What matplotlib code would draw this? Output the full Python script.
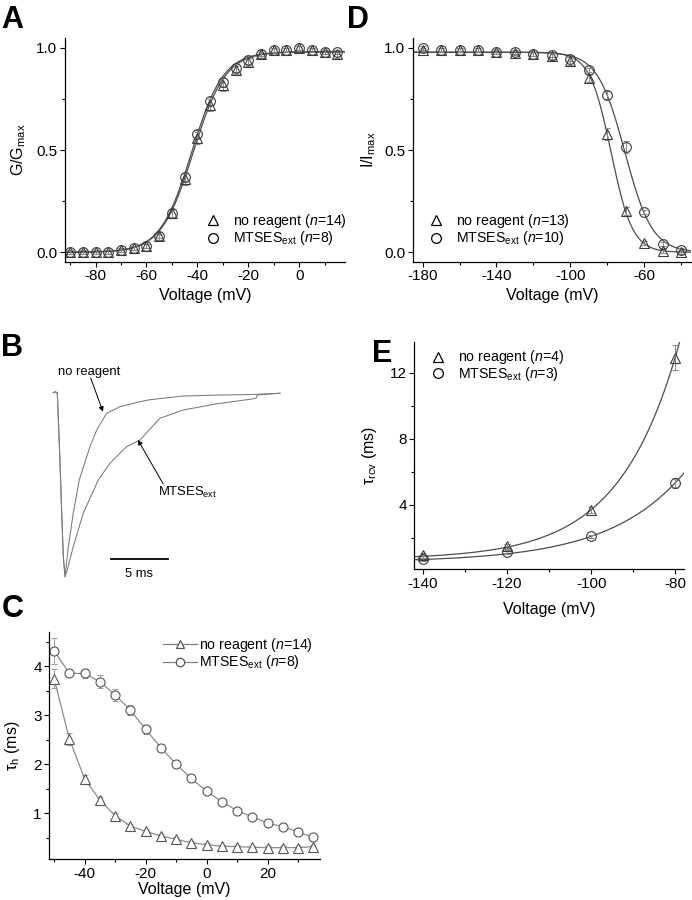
import numpy as np
import matplotlib
matplotlib.use('Agg')
import matplotlib.pyplot as plt
from matplotlib.lines import Line2D
from matplotlib.ticker import MultipleLocator

plt.rcParams['font.family'] = ['Liberation Sans', 'DejaVu Sans']
plt.rcParams['mathtext.fontset'] = 'custom'
plt.rcParams['mathtext.rm'] = 'Liberation Sans'
plt.rcParams['mathtext.it'] = 'Liberation Sans:italic'
plt.rcParams['mathtext.bf'] = 'Liberation Sans:bold'
plt.rcParams['axes.unicode_minus'] = False

# ---------------- Panel A: activation (G/Gmax) ----------------
act_v = [-90, -85, -80, -75, -70, -65, -60, -55, -50, -45, -40, -35, -30, -25, -20, -15, -10, -5, 0, 5, 10, 15]
act_nr = [0.0, 0.0, 0.0, 0.0, 0.01, 0.02, 0.03, 0.08, 0.19, 0.36, 0.56, 0.72, 0.82, 0.89, 0.93, 0.97, 0.99, 0.99, 1.0, 0.99, 0.98, 0.97]
act_nr_err = [0.01, 0.01, 0.01, 0.01, 0.01, 0.01, 0.01, 0.02, 0.02, 0.03, 0.03, 0.03, 0.03, 0.02, 0.02, 0.02, 0.01, 0.01, 0.01, 0.01, 0.01, 0.02]
act_mt = [0.0, 0.0, 0.0, 0.0, 0.01, 0.02, 0.03, 0.08, 0.19, 0.37, 0.58, 0.74, 0.83, 0.90, 0.94, 0.97, 0.99, 0.99, 1.0, 0.99, 0.98, 0.98]
act_mt_err = [0.01, 0.01, 0.01, 0.01, 0.01, 0.01, 0.01, 0.01, 0.02, 0.02, 0.02, 0.02, 0.02, 0.02, 0.02, 0.01, 0.01, 0.01, 0.01, 0.01, 0.01, 0.01]
act_fit_nr = dict(top=0.98, vhalf=-41.6, k=6.3)
act_fit_mt = dict(top=0.98, vhalf=-42.2, k=6.2)

# ---------------- Panel D: steady-state inactivation ----------------
inact_v = [-180, -170, -160, -150, -140, -130, -120, -110, -100, -90, -80, -70, -60, -50, -40]
inact_nr = [0.99, 0.99, 0.99, 0.99, 0.98, 0.975, 0.97, 0.96, 0.935, 0.85, 0.577, 0.20, 0.047, 0.008, 0.0]
inact_nr_err = [0.01, 0.01, 0.01, 0.01, 0.01, 0.01, 0.01, 0.02, 0.02, 0.02, 0.03, 0.02, 0.01, 0.01, 0.01]
inact_mt = [1.0, 0.99, 0.99, 0.99, 0.98, 0.977, 0.97, 0.965, 0.945, 0.89, 0.77, 0.516, 0.195, 0.04, 0.01]
inact_mt_err = [0.01, 0.01, 0.01, 0.01, 0.01, 0.01, 0.01, 0.01, 0.01, 0.01, 0.02, 0.03, 0.01, 0.01, 0.01]
inact_fit_nr = dict(top=0.978, vhalf=-77.9, k=5.8)
inact_fit_mt = dict(top=0.978, vhalf=-70.4, k=7.4)

# ---------------- Panel B: current traces (normalized) ----------------
trace_nr_t = [0, 0.15, 0.35, 0.59, 0.74, 0.88, 1.03, 1.32, 1.75, 2.28, 3.22, 3.81, 4.68, 5.85, 7.61, 8.48, 11.4, 14.5, 17.25, 19.9]
trace_nr_i = [0, 0.005, 0, -0.38, -0.66, -0.89, -1.0, -0.837, -0.655, -0.474, -0.293, -0.203, -0.112, -0.076, -0.049, -0.038, -0.018, -0.013, -0.010, -0.003]
trace_mt_t = [0, 0.15, 0.35, 0.59, 0.74, 0.88, 1.03, 1.2, 1.75, 2.63, 3.95, 4.97, 6.44, 7.61, 8.6, 9.36, 11.4, 14.3, 17.25, 17.8, 17.9, 19.9]
trace_mt_i = [0, 0.005, 0, -0.38, -0.66, -0.89, -1.0, -0.97, -0.837, -0.655, -0.474, -0.384, -0.293, -0.257, -0.19, -0.139, -0.094, -0.061, -0.036, -0.030, -0.0125, -0.003]
scale_bar_ms = 5

# ---------------- Panel C: tau_h ----------------
tauh_v = [-50, -45, -40, -35, -30, -25, -20, -15, -10, -5, 0, 5, 10, 15, 20, 25, 30, 35]
tauh_nr = [3.74, 2.51, 1.70, 1.27, 0.95, 0.74, 0.63, 0.54, 0.47, 0.40, 0.36, 0.33, 0.32, 0.31, 0.30, 0.30, 0.30, 0.32]
tauh_nr_err = [0.19, 0.12, 0.08, 0.07, 0.06, 0.05, 0.04, 0.04, 0.04, 0.04, 0.04, 0.03, 0.03, 0.03, 0.03, 0.03, 0.03, 0.03]
tauh_mt = [4.31, 3.85, 3.85, 3.68, 3.41, 3.10, 2.71, 2.34, 2.00, 1.71, 1.45, 1.24, 1.05, 0.93, 0.80, 0.73, 0.62, 0.51]
tauh_mt_err = [0.27, 0.05, 0.10, 0.13, 0.13, 0.10, 0.09, 0.06, 0.04, 0.04, 0.04, 0.03, 0.03, 0.03, 0.03, 0.03, 0.03, 0.03]

# ---------------- Panel E: tau_rcv ----------------
rcv_v = [-140, -120, -100, -80]
rcv_nr = [0.93, 1.48, 3.68, 12.92]
rcv_nr_err = [0.15, 0.15, 0.2, 0.75]
rcv_mt = [0.67, 1.13, 2.08, 5.34]
rcv_mt_err = [0.1, 0.12, 0.1, 0.3]
rcv_fit_nr = dict(a=0.68, b=12.32, k=14.2, vref=-80)
rcv_fit_mt = dict(a=0.50, b=4.84, k=17.8, vref=-80)

W, H = 692, 900
fig = plt.figure(figsize=(W / 100, H / 100), dpi=100)


def px_axes(l, t, r, b):
    return fig.add_axes([l / W, 1 - b / H, (r - l) / W, (b - t) / H])


def fx(x):
    return x / W


def fy(y):
    return 1 - y / H


FS = 11.5
TFS = 11
LFS = 10.2
BFS = 9.4
DARK = '#3a3a3a'
FITC = '#4d4d4d'
ERRC = '#8a8a8a'


def style(ax):
    for s in ['top', 'right']:
        ax.spines[s].set_visible(False)
    for s in ['left', 'bottom']:
        ax.spines[s].set_linewidth(0.9)
    ax.tick_params(which='major', direction='out', length=3.5, width=0.8, labelsize=TFS, pad=2)
    ax.tick_params(which='minor', direction='out', length=2, width=0.8)


def legend_entry(x, y, marker, line=False, mcolor='black', lcolor='#808080', ms=7):
    if line:
        fig.add_artist(Line2D([fx(x - 17), fx(x + 17)], [fy(y), fy(y)], color=lcolor, lw=0.9,
                              transform=fig.transFigure))
    fig.add_artist(Line2D([fx(x)], [fy(y)], marker=marker, ms=ms, mfc='white', mec=mcolor, mew=0.9,
                          ls='none', transform=fig.transFigure))


def legend_text(x, y, text, size=LFS):
    fig.text(fx(x), fy(y + 4.5), text, fontsize=size, ha='left', va='baseline')


def boltz_up(v, p):
    v = np.asarray(v, dtype=float)
    return p['top'] / (1 + np.exp((p['vhalf'] - v) / p['k']))


def boltz_down(v, p):
    v = np.asarray(v, dtype=float)
    return p['top'] / (1 + np.exp((v - p['vhalf']) / p['k']))


# ---------- A ----------
axA = px_axes(65, 38.3, 345, 261.7)
style(axA)
vv = np.linspace(-92, 18, 300)
axA.plot(vv, boltz_up(vv, act_fit_nr), color=FITC, lw=0.9)
axA.plot(vv, boltz_up(vv, act_fit_mt), color=FITC, lw=0.9)
axA.errorbar(act_v, act_nr, yerr=act_nr_err, fmt='^', ms=7, mfc='none', mec=DARK, mew=0.8,
             ecolor=ERRC, elinewidth=0.7, capsize=2)
axA.errorbar(act_v, act_mt, yerr=act_mt_err, fmt='o', ms=7, mfc='none', mec=DARK, mew=0.8,
             ecolor=ERRC, elinewidth=0.7, capsize=2)
axA.set_xlim(-92, 18)
axA.set_ylim(-0.046, 1.046)
axA.set_xticks([-80, -60, -40, -20, 0])
axA.xaxis.set_minor_locator(MultipleLocator(10))
axA.yaxis.set_major_locator(MultipleLocator(0.5))
axA.yaxis.set_minor_locator(MultipleLocator(0.25))
axA.set_xlabel('Voltage (mV)', fontsize=FS, labelpad=3)
axA.set_ylabel(r'G/G$_{\mathrm{max}}$', fontsize=FS, labelpad=6)
legend_entry(213, 220, '^')
legend_text(233, 220, r'no reagent ($\mathit{n}$=14)')
legend_entry(213, 238, 'o')
legend_text(233, 238, r'MTSES$_{\mathrm{ext}}$ ($\mathit{n}$=8)')

# ---------- D ----------
axD = px_axes(412.7, 38.3, 691, 261.7)
style(axD)
vv = np.linspace(-185.4, -34.6, 300)
axD.plot(vv, boltz_down(vv, inact_fit_nr), color=FITC, lw=0.9)
axD.plot(vv, boltz_down(vv, inact_fit_mt), color=FITC, lw=0.9)
axD.errorbar(inact_v, inact_nr, yerr=inact_nr_err, fmt='^', ms=7, mfc='none', mec=DARK, mew=0.8,
             ecolor=ERRC, elinewidth=0.7, capsize=2)
axD.errorbar(inact_v, inact_mt, yerr=inact_mt_err, fmt='o', ms=7, mfc='none', mec=DARK, mew=0.8,
             ecolor=ERRC, elinewidth=0.7, capsize=2)
axD.set_xlim(-185.4, -34.6)
axD.set_ylim(-0.046, 1.046)
axD.set_xticks([-180, -140, -100, -60])
axD.xaxis.set_minor_locator(MultipleLocator(20))
axD.yaxis.set_major_locator(MultipleLocator(0.5))
axD.yaxis.set_minor_locator(MultipleLocator(0.25))
axD.set_xlabel('Voltage (mV)', fontsize=FS, labelpad=3)
axD.set_ylabel(r'I/I$_{\mathrm{max}}$', fontsize=FS, labelpad=4)
legend_entry(436, 220, '^')
legend_text(456, 220, r'no reagent ($\mathit{n}$=13)')
legend_entry(436, 238, 'o')
legend_text(456, 238, r'MTSES$_{\mathrm{ext}}$ ($\mathit{n}$=10)')

# ---------- B ----------
axB = px_axes(53.3, 392.7, 280, 576.7)
axB.set_xlim(0, 19.9)
axB.set_ylim(-1, 0)
axB.axis('off')
axB.plot(trace_nr_t, trace_nr_i, color='#7a7a7a', lw=0.75, clip_on=False)
axB.plot(trace_mt_t, trace_mt_i, color='#7a7a7a', lw=0.75, clip_on=False)
sb_x0 = 5.06
axB.plot([sb_x0, sb_x0 + scale_bar_ms], [-0.904, -0.904], color='black', lw=1.3, clip_on=False)
axB.text(sb_x0 + scale_bar_ms / 2, -0.985, '%d ms' % scale_bar_ms, fontsize=BFS, ha='center', va='center')
axB.text(3.11, 0.11, 'no reagent', fontsize=BFS, ha='center', va='center')
axB.annotate('', xy=(4.36, -0.103), xytext=(3.28, 0.08),
             arrowprops=dict(arrowstyle='-|>', color='black', lw=0.7, mutation_scale=7,
                             shrinkA=0, shrinkB=0), annotation_clip=False)
axB.text(9.21, -0.563, r'MTSES$_{\mathrm{ext}}$', fontsize=BFS, ha='left', va='baseline')
axB.annotate('', xy=(7.43, -0.257), xytext=(9.65, -0.496),
             arrowprops=dict(arrowstyle='-|>', color='black', lw=0.7, mutation_scale=7,
                             shrinkA=0, shrinkB=0), annotation_clip=False)

# ---------- C ----------
axC = px_axes(49.3, 631.7, 320, 859.3)
style(axC)
CL = '#8c8c8c'
CM = '#555555'
axC.errorbar(tauh_v, tauh_nr, yerr=tauh_nr_err, fmt='-^', color=CL, lw=0.9, ms=6.5, mfc='white',
             mec=CM, mew=0.8, ecolor='#a0a0a0', elinewidth=0.7, capsize=2)
axC.errorbar(tauh_v, tauh_mt, yerr=tauh_mt_err, fmt='-o', color=CL, lw=0.9, ms=6.5, mfc='white',
             mec=CM, mew=0.8, ecolor='#a0a0a0', elinewidth=0.7, capsize=2)
axC.set_xlim(-51.6, 37.2)
axC.set_ylim(0.063, 4.70)
axC.set_xticks([-40, -20, 0, 20])
axC.xaxis.set_minor_locator(MultipleLocator(10))
axC.yaxis.set_major_locator(MultipleLocator(1))
axC.yaxis.set_minor_locator(MultipleLocator(0.5))
axC.set_xlabel('Voltage (mV)', fontsize=FS, labelpad=1)
axC.set_ylabel(r'τ$_{\mathrm{h}}$ (ms)', fontsize=FS, labelpad=8)
legend_entry(180, 644.3, '^', line=True, mcolor=CM, ms=6)
legend_text(199.3, 644.3, r'no reagent ($\mathit{n}$=14)')
legend_entry(180, 661.7, 'o', line=True, mcolor=CM, ms=6)
legend_text(199.3, 661.7, r'MTSES$_{\mathrm{ext}}$ ($\mathit{n}$=8)')

# ---------- E ----------
axE = px_axes(414.3, 341.7, 684.3, 569.3)
style(axE)
vv = np.linspace(-142, -77.9, 300)
for p in (rcv_fit_nr, rcv_fit_mt):
    axE.plot(vv, p['a'] + p['b'] * np.exp((vv - p['vref']) / p['k']), color=FITC, lw=0.9)
axE.errorbar(rcv_v, rcv_nr, yerr=rcv_nr_err, fmt='^', ms=7, mfc='none', mec=DARK, mew=0.8,
             ecolor=ERRC, elinewidth=0.7, capsize=2)
axE.errorbar(rcv_v, rcv_mt, yerr=rcv_mt_err, fmt='o', ms=7, mfc='none', mec=DARK, mew=0.8,
             ecolor=ERRC, elinewidth=0.7, capsize=2)
axE.set_xlim(-142, -77.9)
axE.set_ylim(0.07, 13.9)
axE.set_xticks([-140, -120, -100, -80])
axE.xaxis.set_minor_locator(MultipleLocator(10))
axE.set_yticks([4, 8, 12])
axE.yaxis.set_minor_locator(MultipleLocator(2))
axE.set_xlabel('Voltage (mV)', fontsize=FS, labelpad=8)
axE.set_ylabel(r'τ$_{\mathrm{rcv}}$ (ms)', fontsize=FS, labelpad=8)
legend_entry(437.7, 356.7, '^')
legend_text(457.7, 356.7, r'no reagent ($\mathit{n}$=4)')
legend_entry(437.7, 373.3, 'o')
legend_text(457.7, 373.3, r'MTSES$_{\mathrm{ext}}$ ($\mathit{n}$=3)')

# ---------- panel letters ----------
for lab, x, y in [('A', 1, 28), ('D', 347, 28), ('B', 1, 355.7), ('C', 2, 616.7), ('E', 372, 361.7)]:
    fig.text(fx(x), fy(y), lab, fontsize=22, fontweight='bold', ha='left', va='baseline')

fig.savefig('out.png', dpi=100)
